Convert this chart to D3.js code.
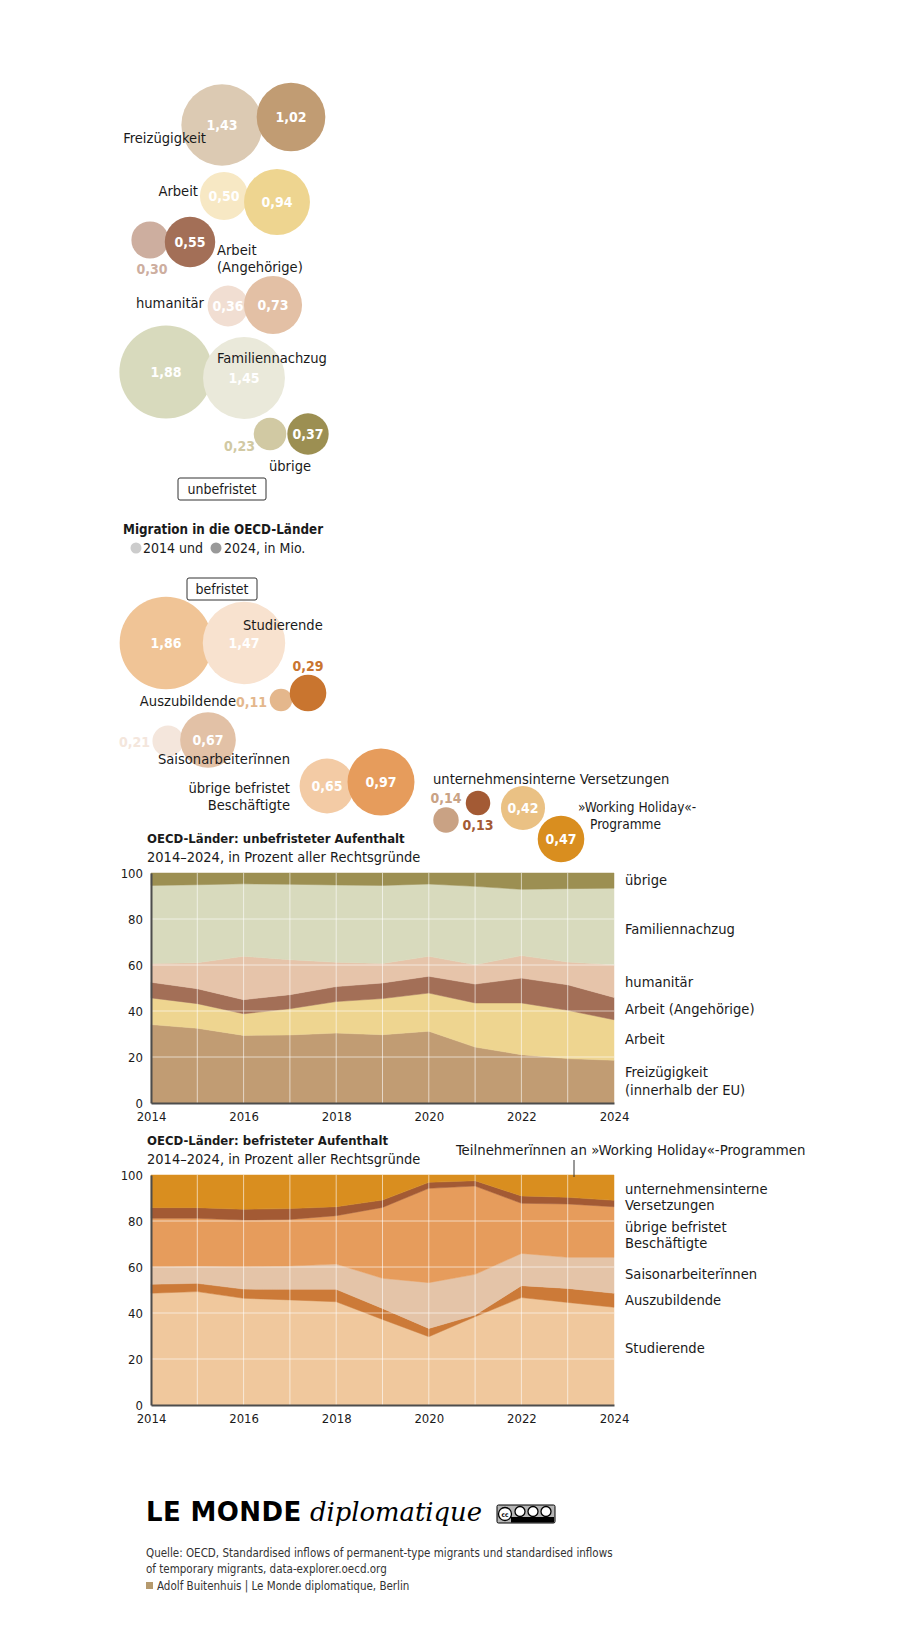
<!DOCTYPE html>
<html lang="de">
<head>
<meta charset="utf-8">
<title>Migration in die OECD-Länder</title>
<script src="https://cdn.jsdelivr.net/npm/d3@7"></script>
<style>
  body { margin: 0; background: #fff; }
  svg { display: block; }
  text { font-family: "DejaVu Sans Condensed", "Liberation Sans Narrow", "DejaVu Sans", sans-serif; fill: #1a1a1a; }
</style>
</head>
<body>
<script>
// ---- data ----
const years = [2014, 2015, 2016, 2017, 2018, 2019, 2020, 2021, 2022, 2023, 2024];

// unbefristeter Aufenthalt, Anteil in Prozent
const freizuegigkeit = [34.1, 32.5, 29.4, 29.6, 30.4, 29.7, 31.2, 24.3, 21.0, 19.3, 18.6];
const arbeit         = [11.6, 10.7, 9.4, 11.4, 13.7, 15.7, 16.6, 19.2, 22.5, 21.0, 17.6];
const angehoerige    = [6.8, 6.5, 6.1, 6.1, 6.5, 6.8, 7.3, 8.2, 10.8, 11.1, 9.7];
const humanitaer     = [8.2, 11.3, 18.9, 15.2, 10.6, 8.5, 8.7, 8.4, 9.8, 9.9, 14.2];
const familie        = [33.9, 33.9, 31.5, 32.8, 33.6, 33.9, 31.4, 34.1, 28.8, 31.9, 33.3];
const uebrige        = [5.4, 5.1, 4.7, 4.9, 5.2, 5.4, 4.8, 5.8, 7.1, 6.8, 6.6];

// befristeter Aufenthalt, Anteil in Prozent
const studierende    = [48.6, 49.3, 46.4, 45.7, 44.9, 37.2, 29.7, 38.4, 46.7, 44.6, 42.5];
const auszubildende  = [3.9, 3.6, 4.0, 4.6, 5.4, 4.8, 3.6, 0.7, 5.2, 6.1, 6.1];
const saison         = [7.6, 7.5, 9.7, 10.1, 11.0, 13.1, 19.9, 17.7, 14.0, 13.5, 15.6];
const uebrigeBefr    = [21.1, 20.8, 20.3, 20.3, 21.0, 30.8, 41.0, 38.4, 21.8, 23.2, 22.0];
const versetzungen   = [4.6, 4.6, 4.7, 4.7, 3.9, 3.2, 2.6, 2.3, 3.2, 2.9, 2.8];
const workingHoliday = [14.2, 14.2, 14.9, 14.6, 13.8, 10.9, 3.2, 2.5, 9.1, 9.7, 11.0];

// Bubbles, in Mio.
const unbefCats = ["Freizügigkeit", "Arbeit", "Arbeit (Angehörige)", "humanitär", "Familiennachzug", "übrige"];
const unbef2014 = [1.43, 0.50, 0.30, 0.36, 1.45, 0.23];
const unbef2024 = [1.02, 0.94, 0.55, 0.73, 1.88, 0.37];
const befCats = ["Studierende", "Auszubildende", "Saisonarbeiterïnnen", "übrige befristet Beschäftigte", "unternehmensinterne Versetzungen", "»Working Holiday«-Programme"];
const bef2014 = [1.47, 0.11, 0.21, 0.65, 0.14, 0.42];
const bef2024 = [1.86, 0.29, 0.67, 0.97, 0.13, 0.47];

const yTicks = [0, 20, 40, 60, 80, 100];
const xTicks = [2014, 2016, 2018, 2020, 2022, 2024];

// ---- styles / layout ----
const unbefColors = ["#c19c73", "#eed590", "#a36f57", "#e6c4aa", "#d8dabd", "#9c8f52"];
const befColors   = ["#f0c89d", "#cc7a38", "#e4c4a8", "#e69c5c", "#a35a34", "#d98e1f"];
const unbefLight  = ["#dccab3", "#f7e8c4", "#cdae9f", "#f1ded2", "#eae9da", "#d1c9a3"];
const unbefDark   = ["#c19c73", "#eed590", "#a36f57", "#e3c0a5", "#d8dabd", "#9c8f52"];
const befLight    = ["#f8e2cf", "#e4b78c", "#f4e6dc", "#f3cba5", "#c9a284", "#eac184"];
const befDark     = ["#f0c496", "#c9752f", "#e2c1a6", "#e69c5c", "#a35a34", "#d98e1f"];

const unbefLayout = [
  { p14: [222, 125], p24: [291, 117], label: { x: 206, y: 143, a: "end", lines: ["Freizügigkeit"] } },
  { p14: [224, 196], p24: [277, 202], label: { x: 198, y: 196, a: "end", lines: ["Arbeit"] } },
  { p14: [150, 240], p24: [190, 242], out14: [152, 274, "middle"], label: { x: 217, y: 255, a: "start", lines: ["Arbeit", "(Angehörige)"] } },
  { p14: [228, 306], p24: [273, 305], label: { x: 204, y: 308, a: "end", lines: ["humanitär"] } },
  { p14: [244, 378], p24: [166, 372], label: { x: 217, y: 363, a: "start", lines: ["Familiennachzug"] } },
  { p14: [270, 434], p24: [308, 434], out14: [255, 451, "end"], label: { x: 290, y: 471, a: "middle", lines: ["übrige"] } }
];
const befLayout = [
  { p14: [244, 643], p24: [166, 643], label: { x: 243, y: 630, a: "start", lines: ["Studierende"] } },
  { p14: [281, 700], p24: [308, 693], out14: [267, 707, "end"], out24: [308, 671, "middle"], label: { x: 236, y: 706, a: "end", lines: ["Auszubildende"] } },
  { p14: [168, 741], p24: [208, 740], out14: [150, 747, "end"], label: { x: 290, y: 764, a: "end", lines: ["Saisonarbeiterïnnen"] } },
  { p14: [327, 786], p24: [381, 782], label: { x: 290, y: 793, a: "end", lines: ["übrige befristet", "Beschäftigte"] } },
  { p14: [446, 820], p24: [478, 803], out14: [446, 803, "middle"], out24: [478, 830, "middle"], label: { x: 433, y: 784, a: "start", lines: ["unternehmensinterne Versetzungen"] } },
  { p14: [523, 808], p24: [561, 839], label: { x: 578, y: 812, a: "start", size: 13.6, lines: ["»Working Holiday«-", "Programme"], dx: [0, 12] } }
];

const width = 924, height = 1640;
const svg = d3.select("body").append("svg")
  .attr("width", width)
  .attr("height", height);

svg.append("rect").attr("width", width).attr("height", height).attr("fill", "#fff");

const de = d3.formatLocale({ decimal: ",", thousands: ".", grouping: [3], currency: ["", " €"] });
const fmt = de.format(".2f");
const rScale = d3.scaleSqrt().domain([0, 1]).range([0, 34]);

// ---- bubbles ----
function drawBubbles(vals14, vals24, light, dark, layout) {
  const g = svg.append("g");
  const items = [];
  layout.forEach((L, i) => {
    const pair = [
      { v: vals14[i], p: L.p14, col: light[i], out: L.out14 },
      { v: vals24[i], p: L.p24, col: dark[i], out: L.out24 }
    ].sort((a, b) => a.p[0] - b.p[0]);
    pair.forEach(d => items.push(d));
  });

  g.selectAll("circle")
    .data(items)
    .join("circle")
    .attr("cx", d => d.p[0])
    .attr("cy", d => d.p[1])
    .attr("r", d => rScale(d.v))
    .attr("fill", d => d.col);

  // numbers
  g.selectAll("text.num")
    .data(items)
    .join("text")
    .attr("class", "num")
    .attr("x", d => d.out ? d.out[0] : d.p[0])
    .attr("y", d => d.out ? d.out[1] : d.p[1])
    .attr("dy", d => d.out ? 0 : "0.36em")
    .attr("text-anchor", d => d.out ? d.out[2] : "middle")
    .style("font-size", "14px")
    .style("font-weight", "bold")
    .style("fill", d => d.out ? d.col : "#fff")
    .text(d => fmt(d.v));

  // category labels
  layout.forEach(L => {
    const t = g.append("text")
      .attr("text-anchor", L.label.a)
      .style("font-size", (L.label.size || 14.6) + "px");
    L.label.lines.forEach((line, j) => {
      t.append("tspan")
        .attr("x", L.label.x + (L.label.dx ? L.label.dx[j] : 0))
        .attr("y", L.label.y + j * 16.5)
        .text(line);
    });
  });
}

drawBubbles(unbef2014, unbef2024, unbefLight, unbefDark, unbefLayout);
drawBubbles(bef2014, bef2024, befLight, befDark, befLayout);

// boxed headings
function boxLabel(txt, cx, y0, w) {
  svg.append("rect")
    .attr("x", cx - w / 2).attr("y", y0)
    .attr("width", w).attr("height", 22)
    .attr("rx", 2)
    .attr("fill", "#fff")
    .attr("stroke", "#333")
    .attr("stroke-width", 1);
  svg.append("text")
    .attr("x", cx).attr("y", y0 + 16)
    .attr("text-anchor", "middle")
    .style("font-size", "14px")
    .text(txt);
}
boxLabel("unbefristet", 222, 478, 88);
boxLabel("befristet", 222, 578, 70);

// title + legend of the bubble part
svg.append("text")
  .attr("x", 123).attr("y", 534)
  .style("font-size", "13.3px")
  .style("font-weight", "bold")
  .text("Migration in die OECD-Länder");

svg.append("circle").attr("cx", 136).attr("cy", 548).attr("r", 5.5).attr("fill", "#cccccc");
svg.append("text").attr("x", 143).attr("y", 553).style("font-size", "14px").text("2014 und");
svg.append("circle").attr("cx", 216).attr("cy", 548).attr("r", 5.5).attr("fill", "#999999");
svg.append("text").attr("x", 224).attr("y", 553).style("font-size", "14px").text("2024, in Mio.");

// ---- stacked area charts ----
const x = d3.scaleLinear([2014, 2024], [151, 614]);

function areaChart(cfg) {
  const y = d3.scaleLinear([0, 100], [cfg.top + 230, cfg.top]);
  const rows = years.map((yr, i) => {
    const row = { year: yr };
    cfg.keys.forEach((k, j) => { row[k] = cfg.series[j][i]; });
    return row;
  });
  const stacked = d3.stack().keys(cfg.keys)(rows);

  const area = d3.area()
    .x(d => x(d.data.year))
    .y0(d => y(d[0]))
    .y1(d => y(d[1]));

  const g = svg.append("g");

  g.selectAll("path.layer")
    .data(stacked)
    .join("path")
    .attr("class", "layer")
    .attr("fill", (d, i) => cfg.colors[i])
    .attr("stroke", (d, i) => cfg.colors[i])
    .attr("stroke-width", 0.5)
    .attr("d", area);

  // grid
  g.selectAll("line.hgrid")
    .data([20, 40, 60, 80])
    .join("line")
    .attr("class", "hgrid")
    .attr("x1", x(2014)).attr("x2", x(2024))
    .attr("y1", d => y(d)).attr("y2", d => y(d))
    .attr("stroke", "#fff")
    .attr("stroke-opacity", 0.6)
    .attr("stroke-width", 1);
  g.selectAll("line.vgrid")
    .data(years.slice(1, -1))
    .join("line")
    .attr("class", "vgrid")
    .attr("x1", d => x(d)).attr("x2", d => x(d))
    .attr("y1", y(100)).attr("y2", y(0))
    .attr("stroke", "#fff")
    .attr("stroke-opacity", 0.6)
    .attr("stroke-width", 1);

  // axes
  const yAxis = d3.axisLeft(y).tickValues(yTicks).tickSize(0).tickPadding(8);
  g.append("g")
    .attr("transform", `translate(${x(2014)},0)`)
    .call(yAxis)
    .call(a => a.select(".domain").attr("stroke", "#4d4d4d").attr("stroke-width", 2))
    .call(a => a.selectAll("text").style("font-size", "13px").attr("fill", "#1a1a1a"));

  const xAxis = d3.axisBottom(x).tickValues(xTicks).tickFormat(d3.format("d")).tickSize(0).tickPadding(9);
  g.append("g")
    .attr("transform", `translate(0,${y(0)})`)
    .call(xAxis)
    .call(a => a.select(".domain").attr("stroke", "#4d4d4d").attr("stroke-width", 2))
    .call(a => a.selectAll("text").style("font-size", "13px").attr("fill", "#1a1a1a"));

  // titles
  g.append("text")
    .attr("x", 147).attr("y", cfg.top - 30)
    .style("font-size", "13px")
    .style("font-weight", "bold")
    .text(cfg.title);
  g.append("text")
    .attr("x", 147).attr("y", cfg.top - 11)
    .style("font-size", "14.5px")
    .text("2014–2024, in Prozent aller Rechtsgründe");

  // series labels on the right
  cfg.labels.forEach(lab => {
    const t = g.append("text").style("font-size", "14.6px");
    lab.lines.forEach((line, j) => {
      t.append("tspan")
        .attr("x", 625)
        .attr("y", lab.y + j * (lab.lh || 16))
        .text(line);
    });
  });
  return { g, y };
}

areaChart({
  top: 873,
  title: "OECD-Länder: unbefristeter Aufenthalt",
  keys: ["Freizügigkeit", "Arbeit", "Arbeit (Angehörige)", "humanitär", "Familiennachzug", "übrige"],
  series: [freizuegigkeit, arbeit, angehoerige, humanitaer, familie, uebrige],
  colors: unbefColors,
  labels: [
    { y: 885, lines: ["übrige"] },
    { y: 934, lines: ["Familiennachzug"] },
    { y: 987, lines: ["humanitär"] },
    { y: 1014, lines: ["Arbeit (Angehörige)"] },
    { y: 1044, lines: ["Arbeit"] },
    { y: 1077, lines: ["Freizügigkeit", "(innerhalb der EU)"], lh: 18 }
  ]
});

const c2 = areaChart({
  top: 1175,
  title: "OECD-Länder: befristeter Aufenthalt",
  keys: ["Studierende", "Auszubildende", "Saisonarbeiterïnnen", "übrige befristet Beschäftigte", "unternehmensinterne Versetzungen", "Working Holiday"],
  series: [studierende, auszubildende, saison, uebrigeBefr, versetzungen, workingHoliday],
  colors: befColors,
  labels: [
    { y: 1194, lines: ["unternehmensinterne", "Versetzungen"] },
    { y: 1232, lines: ["übrige befristet", "Beschäftigte"] },
    { y: 1279, lines: ["Saisonarbeiterïnnen"] },
    { y: 1305, lines: ["Auszubildende"] },
    { y: 1353, lines: ["Studierende"] }
  ]
});

// callout for the top layer
c2.g.append("text")
  .attr("x", 456).attr("y", 1155)
  .style("font-size", "14.8px")
  .text("Teilnehmerïnnen an »Working Holiday«-Programmen");
c2.g.append("line")
  .attr("x1", 574).attr("x2", 574)
  .attr("y1", 1160).attr("y2", c2.y(100) + 2)
  .attr("stroke", "#333")
  .attr("stroke-width", 1);

// ---- footer ----
svg.append("text")
  .attr("x", 146).attr("y", 1521)
  .style("font-family", "'DejaVu Sans', sans-serif")
  .style("font-weight", "bold")
  .style("font-size", "26px")
  .style("letter-spacing", "0.4px")
  .style("fill", "#000")
  .text("LE MONDE");
svg.append("text")
  .attr("x", 310).attr("y", 1521)
  .style("font-family", "'DejaVu Serif', serif")
  .style("font-style", "italic")
  .style("font-size", "25.8px")
  .style("fill", "#000")
  .text("diplomatique");

// licence badge
const cc = svg.append("g").attr("transform", "translate(497,1505)");
cc.append("rect").attr("width", 58).attr("height", 18).attr("rx", 1.5)
  .attr("fill", "#b5b5b5").attr("stroke", "#000").attr("stroke-width", 1);
cc.append("rect").attr("x", 14).attr("y", 12).attr("width", 43).attr("height", 5.5).attr("fill", "#000");
[8, 23, 36, 49].forEach((cx, i) => {
  cc.append("circle").attr("cx", cx).attr("cy", i === 0 ? 9 : 6.5).attr("r", i === 0 ? 6.5 : 5)
    .attr("fill", "#fff").attr("stroke", "#000").attr("stroke-width", 1.3);
});
cc.append("text").attr("x", 8).attr("y", 11.5).attr("text-anchor", "middle")
  .style("font-size", "6.5px").style("font-weight", "bold").style("fill", "#000").text("cc");

const src = [
  "Quelle: OECD, Standardised inflows of permanent-type migrants und standardised inflows",
  "of temporary migrants, data-explorer.oecd.org"
];
svg.selectAll("text.src")
  .data(src)
  .join("text")
  .attr("class", "src")
  .attr("x", 146)
  .attr("y", (d, i) => 1557 + i * 15.5)
  .style("font-size", "11.5px")
  .style("fill", "#333")
  .text(d => d);
svg.append("rect").attr("x", 146).attr("y", 1582).attr("width", 7).attr("height", 7).attr("fill", "#b59a6e");
svg.append("text")
  .attr("x", 157).attr("y", 1590)
  .style("font-size", "11.5px")
  .style("fill", "#333")
  .text("Adolf Buitenhuis | Le Monde diplomatique, Berlin");
</script>
</body>
</html>
